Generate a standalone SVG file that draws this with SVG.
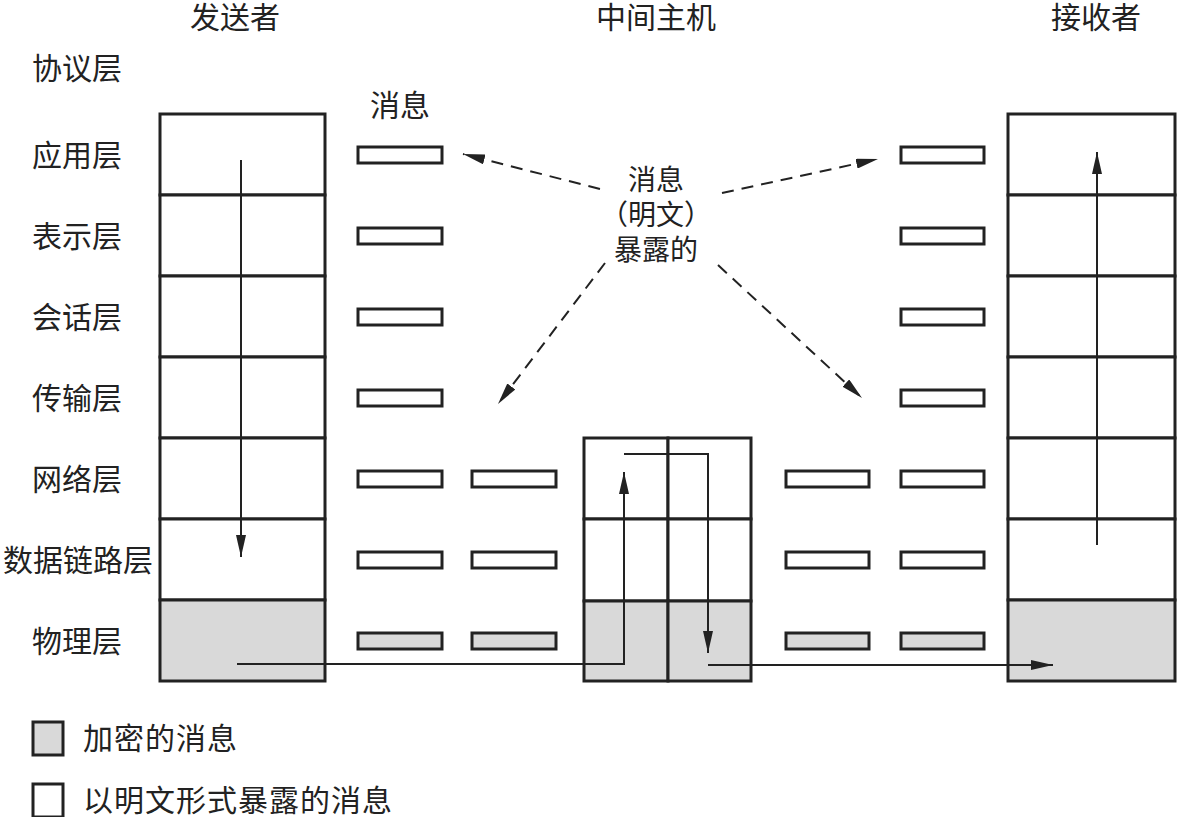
<svg xmlns="http://www.w3.org/2000/svg" width="1177" height="817" viewBox="0 0 1177 817">
<style>
text{font-family:"Noto Sans CJK SC","Noto Sans CJK JP",sans-serif;font-size:30px;fill:#222}
.box{fill:#fff;stroke:#222;stroke-width:3}
.enc{fill:#d9d9d9;stroke:#222;stroke-width:3}
.msg{fill:#fff;stroke:#222;stroke-width:3}
.msge{fill:#d9d9d9;stroke:#222;stroke-width:3}
.ln{fill:none;stroke:#222;stroke-width:2}
.dash{fill:none;stroke:#222;stroke-width:2;stroke-dasharray:12 8}
.mid{font-size:28px}
</style>
<defs>
<marker id="ah" viewBox="0 0 22 10" refX="22" refY="5" markerWidth="22" markerHeight="10" markerUnits="userSpaceOnUse" orient="auto">
<path d="M0,0 L22,5 L0,10 Z" fill="#222"/>
</marker>
</defs>
<g id="titles">
<text x="235" y="28" text-anchor="middle">发送者</text>
<text x="656" y="28" text-anchor="middle">中间主机</text>
<text x="1096" y="28" text-anchor="middle">接收者</text>
<text x="77" y="79" text-anchor="middle">协议层</text>
<text x="400" y="116" text-anchor="middle">消息</text>
</g>
<g id="layer-labels">
<text x="77" y="166" text-anchor="middle">应用层</text>
<text x="77" y="247" text-anchor="middle">表示层</text>
<text x="77" y="328" text-anchor="middle">会话层</text>
<text x="77" y="409" text-anchor="middle">传输层</text>
<text x="77" y="490" text-anchor="middle">网络层</text>
<text x="78" y="571" text-anchor="middle">数据链路层</text>
<text x="77" y="652" text-anchor="middle">物理层</text>
</g>
<g id="sender">
<rect class="box" x="160" y="114" width="165" height="81"/>
<rect class="box" x="160" y="195" width="165" height="81"/>
<rect class="box" x="160" y="276" width="165" height="81"/>
<rect class="box" x="160" y="357" width="165" height="81"/>
<rect class="box" x="160" y="438" width="165" height="81"/>
<rect class="box" x="160" y="519" width="165" height="81"/>
<rect class="enc" x="160" y="600" width="165" height="81"/>
</g>
<g id="host">
<rect class="box" x="584" y="438" width="84" height="81"/>
<rect class="box" x="668" y="438" width="83" height="81"/>
<rect class="box" x="584" y="519" width="84" height="82"/>
<rect class="box" x="668" y="519" width="83" height="82"/>
<rect class="enc" x="584" y="601" width="84" height="80"/>
<rect class="enc" x="668" y="601" width="83" height="80"/>
</g>
<g id="receiver">
<rect class="box" x="1008" y="114" width="167" height="81"/>
<rect class="box" x="1008" y="195" width="167" height="81"/>
<rect class="box" x="1008" y="276" width="167" height="81"/>
<rect class="box" x="1008" y="357" width="167" height="81"/>
<rect class="box" x="1008" y="438" width="167" height="81"/>
<rect class="box" x="1008" y="519" width="167" height="81"/>
<rect class="enc" x="1008" y="600" width="167" height="81"/>
</g>
<g id="messages">
<rect class="msg" x="358" y="147" width="84" height="16"/>
<rect class="msg" x="358" y="228" width="84" height="16"/>
<rect class="msg" x="358" y="309" width="84" height="16"/>
<rect class="msg" x="358" y="390" width="84" height="16"/>
<rect class="msg" x="358" y="471" width="84" height="16"/>
<rect class="msg" x="358" y="552" width="84" height="16"/>
<rect class="msge" x="358" y="633" width="84" height="16"/>
<rect class="msg" x="472" y="471" width="84" height="16"/>
<rect class="msg" x="472" y="552" width="84" height="16"/>
<rect class="msge" x="472" y="633" width="84" height="16"/>
<rect class="msg" x="786" y="471" width="83" height="16"/>
<rect class="msg" x="786" y="552" width="83" height="16"/>
<rect class="msge" x="786" y="633" width="83" height="16"/>
<rect class="msg" x="901" y="147" width="83" height="16"/>
<rect class="msg" x="901" y="228" width="83" height="16"/>
<rect class="msg" x="901" y="309" width="83" height="16"/>
<rect class="msg" x="901" y="390" width="83" height="16"/>
<rect class="msg" x="901" y="471" width="83" height="16"/>
<rect class="msg" x="901" y="552" width="83" height="16"/>
<rect class="msge" x="901" y="633" width="83" height="16"/>
</g>
<g id="exposed-label">
<text class="mid" x="656" y="190" text-anchor="middle">消息</text>
<text class="mid" x="656" y="225" text-anchor="middle">（明文）</text>
<text class="mid" x="656" y="260" text-anchor="middle">暴露的</text>
</g>
<g id="connectors">
<path class="ln" d="M241,160 L241,557" marker-end="url(#ah)"/>
<path class="ln" d="M237,664 L624,664 L624,472" marker-end="url(#ah)"/>
<path class="ln" d="M624,454 L708,454 L708,653" marker-end="url(#ah)"/>
<path class="ln" d="M708,665 L1053,665" marker-end="url(#ah)"/>
<path class="ln" d="M1097,545 L1097,152" marker-end="url(#ah)"/>
<path class="dash" d="M600,189 L463,154" marker-end="url(#ah)"/>
<path class="dash" d="M722,193 L878,159" marker-end="url(#ah)"/>
<path class="dash" d="M605,263 L498,404" marker-end="url(#ah)"/>
<path class="dash" d="M718,265 L862,398" marker-end="url(#ah)"/>
</g>
<g id="legend">
<rect class="enc" x="33" y="722" width="30" height="33"/>
<text x="83" y="749" letter-spacing="1">加密的消息</text>
<rect class="box" x="33" y="784" width="30" height="33"/>
<text x="83" y="811" letter-spacing="1">以明文形式暴露的消息</text>
</g>
</svg>
